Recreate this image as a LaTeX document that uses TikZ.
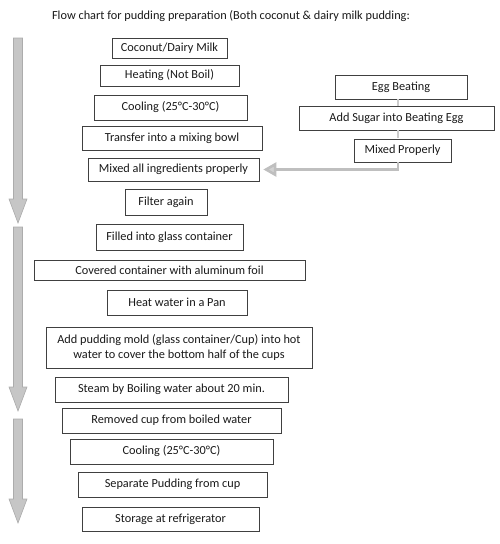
\documentclass[tikz,border=0pt]{standalone}
\usepackage{fontspec}
\setmainfont{Carlito}
\usetikzlibrary{arrows.meta}
\begin{document}
\begin{tikzpicture}[x=1pt,y=1pt,
  box/.style={draw=black!75,line width=0.7pt,inner sep=2pt,align=center,text=black!90,font=\fontsize{12.3}{14.5}\selectfont},
  link/.style={draw=gray!40,line width=2pt},
  feed/.style={draw=gray!50,line width=2.6pt,-{Triangle[length=13pt,width=14pt,fill=gray!35]},shorten >=4pt},
  bigarrow/.style={fill=gray!45,draw=gray!65,line width=0.6pt}]
\useasboundingbox (0,0) rectangle (500,-544);

\node[font=\fontsize{12.3}{14.5}\selectfont,text=black!90] (title) at (231,-16) {Flow chart for pudding preparation (Both coconut \& dairy milk pudding:};

\node[box,minimum width=115,minimum height=20] (milk) at (169.5,-48) {Coconut/Dairy Milk};
\node[box,minimum width=139,minimum height=21] (heat) at (169.5,-75.5) {Heating (Not Boil)};
\node[box,minimum width=153,minimum height=25] (cool) at (170.5,-107.5) {Cooling (25°C-30°C)};
\node[box,minimum width=180,minimum height=24] (transfer) at (172,-138) {Transfer into a mixing bowl};
\node[box,minimum width=171,minimum height=23] (mixall) at (173.5,-169.5) {Mixed all ingredients properly};
\node[box,minimum width=82,minimum height=26] (filter) at (166,-202) {Filter again};
\node[box,minimum width=147,minimum height=26] (fill) at (169.5,-237) {Filled into glass container};
\node[box,minimum width=271,minimum height=20] (cover) at (169.5,-270) {Covered container with aluminum foil};
\node[box,minimum width=140,minimum height=25] (pan) at (177,-302.5) {Heat water in a Pan};
\node[box,minimum width=266,minimum height=41] (mold) at (179,-347.5) {Add pudding mold (glass container/Cup) into hot\\water to cover the bottom half of the cups};
\node[box,minimum width=233,minimum height=25] (steam) at (171.5,-389.5) {Steam by Boiling water about 20 min.};
\node[box,minimum width=219,minimum height=25] (remove) at (171.5,-420.5) {Removed cup from boiled water};
\node[box,minimum width=203,minimum height=25] (cooltwo) at (171.5,-451.5) {Cooling (25°C-30°C)};
\node[box,minimum width=189,minimum height=25] (separate) at (172.5,-484.5) {Separate Pudding from cup};
\node[box,minimum width=177,minimum height=24] (store) at (170.5,-519) {Storage at refrigerator};

\node[box,minimum width=132,minimum height=24] (egg) at (401,-87) {Egg Beating};
\node[box,minimum width=195,minimum height=24] (sugar) at (396.5,-118) {Add Sugar into Beating Egg};
\node[box,minimum width=97,minimum height=23] (mixprop) at (402.5,-150.5) {Mixed Properly};

\draw[link] (egg.south) ++(-3,0) -- ++(0,-7);
\draw[link] (sugar.south) ++(1.5,0) -- ++(0,-8);
\draw[feed] (mixprop.south) ++(-4.5,0) |- (mixall.east);

\foreach \t/\b in {38/223, 227/411, 419/523}
  \draw[bigarrow] (13.5,-\t) -- (22.5,-\t) -- (22.5,-\b+24) -- (27,-\b+24) -- (18,-\b) -- (9,-\b+24) -- (13.5,-\b+24) -- cycle;
\end{tikzpicture}
\end{document}
